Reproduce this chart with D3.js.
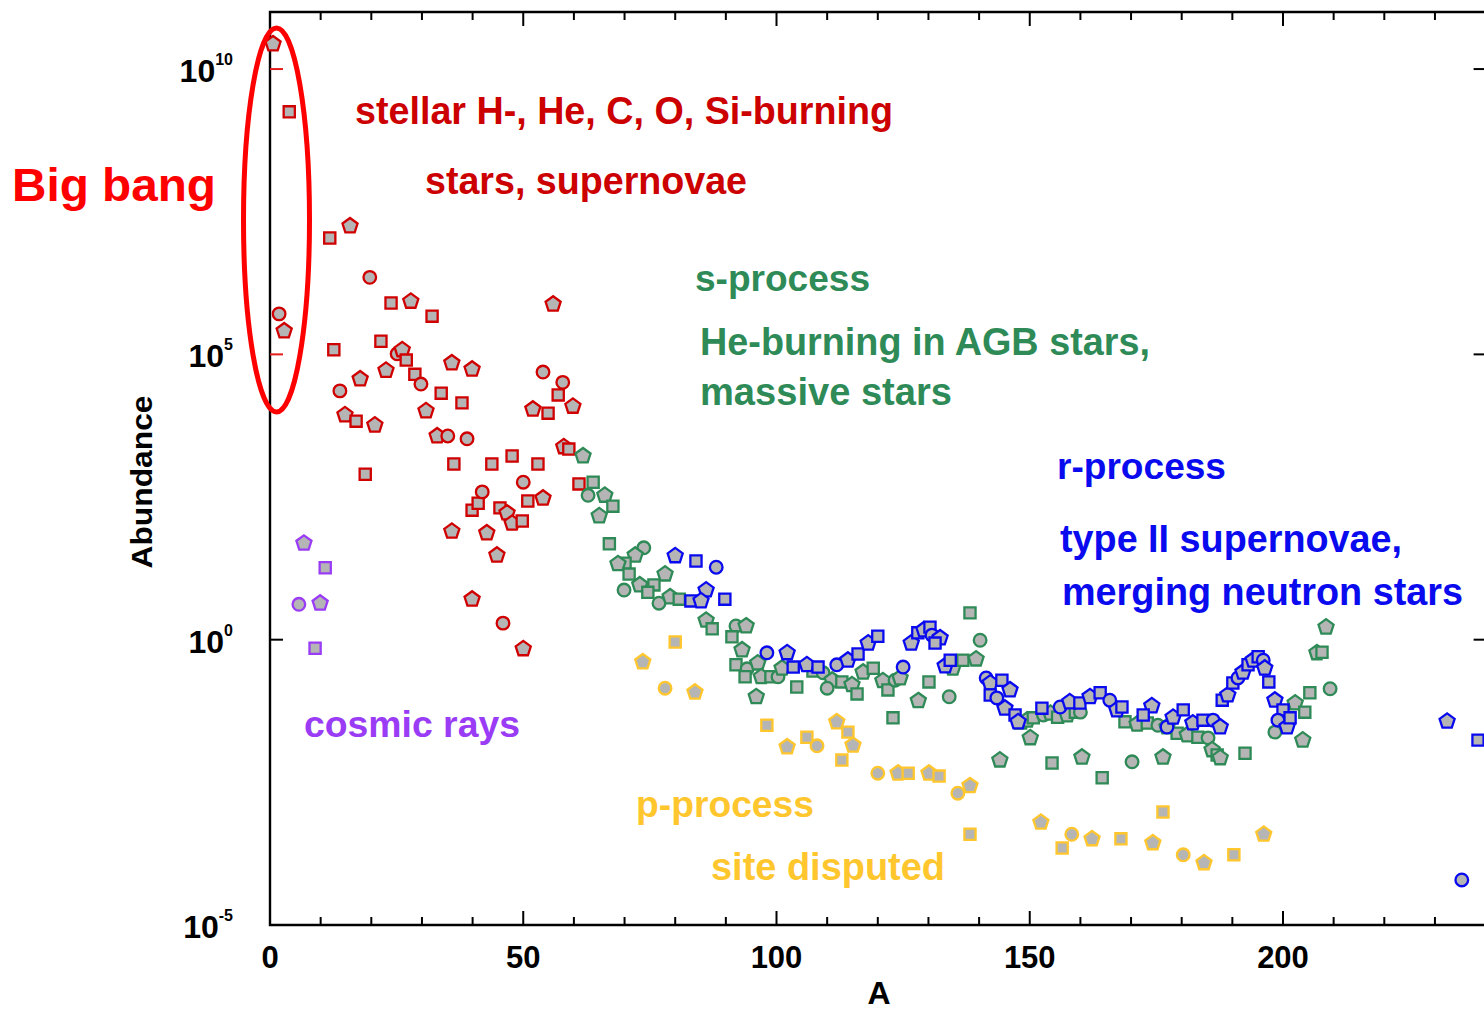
<!DOCTYPE html>
<html><head><meta charset="utf-8">
<script src="https://cdn.jsdelivr.net/npm/d3@7"></script>
<style>body{margin:0;background:#fff}svg{display:block}</style>
</head><body>
<svg id="chart" width="1484" height="1013"></svg>
<script>
// ---------- data (mass number A, log10 abundance) ----------
const stellarA = [0.6,3.8,1.8,2.8,11.8,15.8,12.6,13.8,14.8,17.0,17.8,18.8,19.7,20.7,21.9,22.9,23.9,25.1,26.1,26.9,27.8,28.6,29.8,30.8,32.0,33.0,33.8,35.1,35.9,36.3,35.9,37.9,38.9,39.9,39.9,39.9,41.1,41.9,42.8,43.8,44.8,45.4,46.0,46.8,47.8,47.8,49.8,50.0,50.0,50.9,51.9,52.9,53.9,53.9,54.9,55.9,56.9,57.8,58.0,59.0,59.8,61.0];
const stellarLog = [10.44,9.25,5.71,5.41,7.04,7.25,5.08,4.36,3.94,3.83,4.57,2.90,6.35,3.76,5.23,4.72,5.90,5.01,5.08,4.90,5.93,4.65,4.48,4.01,5.67,3.57,4.32,3.57,4.85,3.08,1.90,4.15,3.52,4.74,2.27,0.71,2.39,2.59,1.87,3.08,1.48,2.31,0.29,2.22,3.22,2.04,2.08,2.76,-0.16,2.43,4.04,3.08,4.69,2.48,3.97,5.88,4.29,4.51,3.38,3.34,4.09,2.73];

const cosmicA = [6.7,10.9,5.7,9.9,8.9];
const cosmicLog = [1.69,1.26,0.62,0.64,-0.15];

const sProcA = [61.8,63.8,62.8,66.1,67.7,65.0,67.0,73.8,72.1,70.1,68.7,70.9,69.9,73.0,75.8,78.0,74.6,76.8,79.0,80.8,86.1,87.3,92.0,94.0,91.2,93.2,92.0,94.2,96.3,93.8,97.0,98.9,100.3,101.1,104.0,96.0,107.2,109.2,111.0,112.9,114.9,115.9,110.0,117.1,119.1,121.0,122.0,123.4,124.4,123.0,128.0,130.1,134.1,134.8,136.8,139.4,138.2,140.2,144.1,148.2,149.5,150.7,152.7,154.1,155.5,157.4,159.0,160.0,150.1,154.4,160.3,164.3,170.2,176.3,168.8,171.2,173.2,175.3,177.1,179.1,181.1,183.2,185.2,186.0,187.0,187.6,192.5,198.4,202.4,204.3,203.9,205.3,209.3,206.7,207.7,208.5];
const sProcLog = [3.22,2.76,2.53,2.53,2.34,2.17,1.68,1.61,1.48,1.34,1.33,1.15,0.87,0.96,0.96,1.15,0.83,0.64,0.75,0.71,0.34,0.19,0.24,0.24,0.05,-0.18,-0.44,-0.51,-0.41,-0.65,-0.65,-0.65,-0.65,-0.50,-0.83,-1.00,-0.55,-0.58,-0.71,-0.74,-0.79,-0.95,-0.85,-0.57,-0.50,-0.72,-0.88,-0.71,-0.67,-1.37,-1.07,-0.74,-1.00,-0.50,-0.36,-0.34,0.47,-0.01,-2.11,-1.46,-1.41,-1.37,-1.32,-1.29,-1.36,-1.32,-1.27,-1.27,-1.72,-2.16,-2.06,-2.42,-2.14,-2.06,-1.44,-1.48,-1.46,-1.50,-1.53,-1.64,-1.67,-1.71,-1.72,-1.93,-2.02,-2.07,-1.99,-1.62,-1.11,-1.27,-1.76,-0.93,-0.86,-0.23,-0.22,0.22];

const rProcA = [80.0,84.1,88.1,86.1,83.1,85.1,89.8,98.1,102.1,103.3,106.0,108.2,111.9,114.1,116.1,118.1,120.0,125.0,126.6,127.9,129.1,130.3,130.7,132.3,131.3,133.3,134.3,141.4,142.2,144.5,146.1,142.2,143.5,145.1,147.1,147.7,152.4,156.0,157.9,159.9,161.9,163.9,165.8,167.2,168.2,174.1,172.4,177.1,178.3,180.3,182.2,184.2,186.2,187.6,188.0,189.1,190.1,191.1,192.1,193.1,194.1,195.1,196.1,196.4,197.2,198.4,200.0,199.0,200.8,201.4,232.4,238.5,235.3];
const rProcLog = [1.47,1.38,1.27,0.87,0.68,0.68,0.71,-0.23,-0.23,-0.48,-0.44,-0.48,-0.44,-0.36,-0.25,-0.06,0.06,-0.48,-0.06,0.12,0.17,0.22,0.08,0.03,-0.06,-0.46,-0.36,-0.67,-0.76,-0.71,-0.88,-0.97,-1.02,-1.20,-1.32,-1.44,-1.20,-1.18,-1.09,-1.11,-1.00,-0.93,-1.06,-1.23,-1.18,-1.16,-1.32,-1.53,-1.36,-1.23,-1.46,-1.41,-1.41,-1.53,-1.06,-0.97,-0.76,-0.67,-0.57,-0.44,-0.36,-0.30,-0.36,-0.50,-0.74,-1.06,-1.23,-1.41,-1.53,-1.37,-1.43,-1.76,-4.21];

const pProcA = [73.6,80.0,78.0,83.9,98.1,102.1,106.0,108.0,111.9,114.1,115.1,112.9,120.0,124.0,126.0,130.1,132.1,135.8,138.2,138.2,152.2,156.4,158.3,162.3,168.0,174.3,176.3,180.3,184.4,190.3,196.2];
const pProcLog = [-0.39,-0.04,-0.85,-0.92,-1.50,-1.88,-1.71,-1.86,-1.44,-1.62,-1.85,-2.11,-2.34,-2.34,-2.34,-2.34,-2.39,-2.69,-2.56,-3.41,-3.20,-3.65,-3.41,-3.49,-3.49,-3.56,-3.02,-3.77,-3.91,-3.77,-3.41];

const xTickMajor = [0, 50, 100, 150, 200];
const yTickExp = [10, 5, 0, -5];
const xLabel = "A";
const yLabel = "Abundance";

// ---------- layout ----------
const svg = d3.select("#chart");
svg.append("rect").attr("width",1484).attr("height",1013).attr("fill","#fff");
const x = d3.scaleLinear().domain([0, 240]).range([270, 1485.6]);
const y = d3.scaleLog().domain([1e-5, 1e11]).range([925, 12]);
const X0 = x(0), X1 = x(240), Y0 = y(1e-5), Y1 = y(1e11);

// frame
const axisG = svg.append("g").attr("stroke","#000").attr("stroke-width",2.4).attr("fill","none");
axisG.append("path").attr("d",`M${X0},${Y1}H${X1}V${Y0}H${X0}Z`);

// x ticks (inward on bottom and top)
const xMinor = d3.range(10, 240, 10);
xMinor.forEach(v => {
  const major = v % 50 === 0;
  const L = major ? 14 : 8;
  axisG.append("line").attr("x1",x(v)).attr("x2",x(v)).attr("y1",Y0).attr("y2",Y0-L).attr("stroke-width",2);
  axisG.append("line").attr("x1",x(v)).attr("x2",x(v)).attr("y1",Y1).attr("y2",Y1+L).attr("stroke-width",2);
});
// y ticks
yTickExp.filter(e => e > -5).forEach(e => {
  const yy = y(Math.pow(10,e));
  axisG.append("line").attr("x1",X0).attr("x2",X0+13).attr("y1",yy).attr("y2",yy)
    .attr("stroke", e >= 5 ? "#e31b1b" : "#000").attr("stroke-width",2);
  axisG.append("line").attr("x1",X1).attr("x2",X1-12).attr("y1",yy).attr("y2",yy).attr("stroke-width",2);
});

// tick labels
const tickFont = "'Liberation Sans', Arial, Helvetica, sans-serif";
svg.append("g").selectAll("text").data(xTickMajor).join("text")
  .attr("x", d => x(d)).attr("y", 968).attr("text-anchor","middle")
  .attr("font-family",tickFont).attr("font-weight","bold").attr("font-size",31)
  .text(d => d);

yTickExp.forEach(e => {
  const yy = y(Math.pow(10,e));
  const t = svg.append("text").attr("x", 233).attr("y", yy + 13).attr("text-anchor","end")
    .attr("font-family",tickFont).attr("font-weight","bold").attr("font-size",32);
  t.append("tspan").text("10");
  t.append("tspan").attr("font-size",16).attr("dy",-17).text(e);
});

svg.append("text").attr("x", 879).attr("y", 1004).attr("text-anchor","middle")
  .attr("font-family",tickFont).attr("font-weight","bold").attr("font-size",32).text(xLabel);
svg.append("text").attr("transform","translate(152,482) rotate(-90)").attr("text-anchor","middle")
  .attr("font-family",tickFont).attr("font-weight","bold").attr("font-size",29)
  .attr("textLength",173).attr("lengthAdjust","spacingAndGlyphs").text(yLabel);

// ---------- markers ----------
const pentagon = {
  draw(ctx, size) {
    const r = Math.sqrt(size / 2.3776);
    for (let i = 0; i < 5; i++) {
      const a = -Math.PI/2 + i * 2*Math.PI/5;
      const px = r*Math.cos(a), py = r*Math.sin(a);
      if (i === 0) ctx.moveTo(px, py); else ctx.lineTo(px, py);
    }
    ctx.closePath();
  }
};
const shapes = [pentagon, d3.symbolSquare, d3.symbolCircle, pentagon, d3.symbolSquare];
const shapeSize = [150, 125, 125, 150, 125];

function drawSeries(As, Ls, stroke) {
  const pts = As.map((a, i) => ({a, l: Ls[i], i}));
  svg.append("g").selectAll("path").data(pts).join("path")
    .attr("transform", d => `translate(${x(d.a)},${y(Math.pow(10, d.l))})`)
    .attr("d", d => d3.symbol().type(shapes[d.i % 5]).size(shapeSize[d.i % 5])())
    .attr("fill", "#b5b5b5").attr("stroke", stroke).attr("stroke-width", 2.3);
}
drawSeries(pProcA, pProcLog, "#ffc62e");
drawSeries(cosmicA, cosmicLog, "#9a3cf5");
drawSeries(stellarA, stellarLog, "#d10000");
drawSeries(sProcA, sProcLog, "#2e8b57");
drawSeries(rProcA, rProcLog, "#0a0af0");

// ---------- annotations ----------
const annFont = "'Liberation Sans', Arial, sans-serif";
const annotations = [
  {t:"stellar H-, He, C, O, Si-burning", x:355, y:124, w:538, c:"#cc0000", s:38},
  {t:"stars, supernovae", x:425, y:194, w:322, c:"#cc0000", s:38},
  {t:"s-process", x:695, y:291, w:175, c:"#2e8b57", s:36},
  {t:"He-burning in AGB stars,", x:700, y:355, w:450, c:"#2e8b57", s:38},
  {t:"massive stars", x:700, y:405, w:252, c:"#2e8b57", s:38},
  {t:"r-process", x:1057, y:479, w:169, c:"#0a0aef", s:36},
  {t:"type II supernovae,", x:1060, y:552, w:342, c:"#0a0aef", s:38},
  {t:"merging neutron stars", x:1062, y:605, w:401, c:"#0a0aef", s:38},
  {t:"cosmic rays", x:304, y:737, w:216, c:"#9a3cf5", s:36},
  {t:"p-process", x:636, y:817, w:178, c:"#ffc62e", s:36},
  {t:"site disputed", x:711, y:880, w:234, c:"#ffc62e", s:38}
];
svg.append("g").selectAll("text").data(annotations).join("text")
  .attr("x", d => d.x).attr("y", d => d.y)
  .attr("font-family", annFont).attr("font-weight","bold").attr("font-size", d => d.s)
  .attr("fill", d => d.c).attr("textLength", d => d.w).attr("lengthAdjust","spacingAndGlyphs")
  .text(d => d.t);

svg.append("text").attr("x", 12).attr("y", 201)
  .attr("font-family","'Liberation Sans', Arial, sans-serif").attr("font-weight","bold")
  .attr("font-size",46).attr("fill","#ff0000").attr("textLength",204).attr("lengthAdjust","spacingAndGlyphs")
  .text("Big bang");

svg.append("ellipse").attr("cx",276.5).attr("cy",220).attr("rx",33).attr("ry",192)
  .attr("fill","none").attr("stroke","#ff0000").attr("stroke-width",5);
</script>
</body></html>
